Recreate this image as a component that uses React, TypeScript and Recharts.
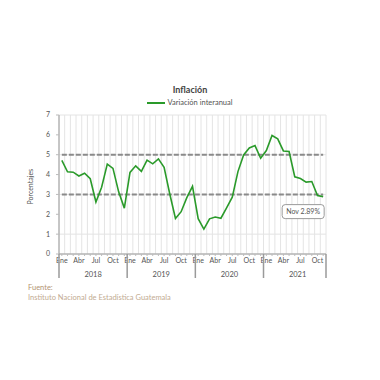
import React from "react";
import {
  LineChart,
  Line,
  XAxis,
  YAxis,
  CartesianGrid,
  ReferenceLine,
  ReferenceDot,
} from "recharts";

const monthNames = ["Ene", "Feb", "Mar", "Abr", "May", "Jun", "Jul", "Ago", "Sep", "Oct", "Nov", "Dic"];
const years = [2018, 2019, 2020, 2021];
const shownMonths = ["Ene", "Abr", "Jul", "Oct"];

const values2018 = [4.71, 4.14, 4.12, 3.93, 4.07, 3.79, 2.62, 3.36, 4.53, 4.31, 3.13, 2.31];
const values2019 = [4.11, 4.44, 4.16, 4.73, 4.54, 4.79, 4.37, 3.02, 1.79, 2.13, 2.84, 3.41];
const values2020 = [1.78, 1.25, 1.77, 1.86, 1.80, 2.32, 2.86, 4.15, 4.99, 5.34, 5.46, 4.82];
const values2021 = [5.21, 5.97, 5.80, 5.19, 5.16, 3.89, 3.80, 3.62, 3.65, 2.94, 2.89];

const seriesByYear = [values2018, values2019, values2020, values2021];

const data = years.flatMap((yr, yi) =>
  seriesByYear[yi].map((v, mi) => ({
    key: `${monthNames[mi]} ${yr}`,
    month: monthNames[mi],
    monthIndex: mi,
    year: yr,
    value: v,
  }))
);

const lastPoint = data[data.length - 1];
const firstKey = data[0].key;
const lastKey = lastPoint.key;
const targetHigh = 5;
const targetLow = 3;

const FONT = "'Lato', 'DejaVu Sans', sans-serif";
const GREEN = "#2a9a2a";

const MonthTick = (props: any) => {
  const { x, y, payload } = props;
  const d = data[payload.index];
  if (!d || !shownMonths.includes(d.month)) return null;
  return (
    <text x={x} y={y} dy="0.71em" textAnchor="middle" fontSize={7} fill="#555" fontFamily={FONT}>
      {d.month}
    </text>
  );
};

const YearTick = (props: any) => {
  const { x, y, payload } = props;
  const i = payload.index;
  const d = data[i];
  if (!d) return null;
  const half = (payload.offset as number) || 2.84;
  const items: any[] = [];
  if (d.monthIndex === 0) {
    items.push(<line key="s" x1={x - half} x2={x - half} y1={y - 12} y2={y + 12} stroke="#9a9a9a" strokeWidth={1.5} />);
  }
  if (i === data.length - 1) {
    items.push(<line key="e" x1={x + half} x2={x + half} y1={y - 12} y2={y + 12} stroke="#9a9a9a" strokeWidth={1.5} />);
  }
  if (d.monthIndex === 5) {
    items.push(
      <text key="t" x={x + half} y={y + 11} textAnchor="middle" fontSize={7.5} fill="#555" fontFamily={FONT}>
        {d.year}
      </text>
    );
  }
  return <g>{items}</g>;
};

const NoteLabel = (props: any) => {
  const { viewBox } = props;
  const cx = viewBox.x + viewBox.width / 2;
  const cy = viewBox.y + viewBox.height / 2;
  const w = 42;
  const h = 14;
  const left = cx - w + 1;
  const top = cy + 8;
  return (
    <g>
      <rect x={left} y={top} width={w} height={h} rx={3} ry={3} fill="#fff" stroke="#9a9a9a" strokeWidth={1} />
      <text x={left + w / 2} y={top + h / 2 + 2.5} textAnchor="middle" fontSize={7} fill="#555" fontFamily={FONT}>
        {`${lastPoint.month} ${lastPoint.value.toFixed(2)}%`}
      </text>
    </g>
  );
};

export default function App() {
  return (
    <div style={{ position: "absolute", left: 0, top: 0, width: 380, height: 380, background: "#fff", fontFamily: FONT }}>
      <div style={{ position: "absolute", left: 0, width: 380, top: 84, textAlign: "center", fontSize: 9, fontWeight: 700, color: "#444" }}>
        Inflación
      </div>
      <div style={{ position: "absolute", left: 0, width: 380, top: 98, display: "flex", justifyContent: "center", alignItems: "center", fontSize: 7.5, color: "#555" }}>
        <span style={{ display: "inline-block", width: 18, height: 2, background: GREEN, marginRight: 2 }} />
        <span>Variación interanual</span>
      </div>
      <div style={{ position: "absolute", left: 0, top: 0 }}>
        <LineChart width={380} height={300} data={data} margin={{ top: 115, right: 54, left: 29, bottom: 10 }}>
          <CartesianGrid
            stroke="#e4e4e4"
            strokeWidth={1}
            verticalCoordinatesGenerator={({ offset }: any) => {
              const n = data.length;
              const bw = offset.width / n;
              return Array.from({ length: n + 1 }, (_, k) => offset.left + k * bw);
            }}
          />
          <XAxis
            dataKey="key"
            scale="band"
            interval={0}
            height={12}
            tick={<MonthTick />}
            tickSize={2}
            tickMargin={2}
            tickLine={{ stroke: "#bbb" }}
            axisLine={{ stroke: "#9a9a9a" }}
          />
          <XAxis
            xAxisId="yr"
            dataKey="key"
            scale="band"
            interval={0}
            height={24}
            tick={<YearTick />}
            tickSize={0}
            tickMargin={0}
            tickLine={false}
            axisLine={false}
          />
          <YAxis
            domain={[0, 7]}
            ticks={[0, 1, 2, 3, 4, 5, 6, 7]}
            width={30}
            tickSize={3}
            tickMargin={6}
            tick={{ fontSize: 7, fill: "#555", fontFamily: FONT }}
            tickLine={{ stroke: "#bbb" }}
            axisLine={{ stroke: "#9a9a9a" }}
            label={{ value: "Porcentajes", angle: -90, position: "insideLeft", offset: 2, dy: 20, style: { fontSize: 7, fill: "#555", fontFamily: FONT } }}
          />
          <ReferenceLine
            segment={[{ x: firstKey, y: targetHigh }, { x: lastKey, y: targetHigh }]}
            stroke="#8a8a8a"
            strokeWidth={2}
            strokeDasharray="5 2"
          />
          <ReferenceLine
            segment={[{ x: firstKey, y: targetLow }, { x: lastKey, y: targetLow }]}
            stroke="#8a8a8a"
            strokeWidth={2}
            strokeDasharray="5 2"
          />
          <Line
            type="linear"
            dataKey="value"
            stroke={GREEN}
            strokeWidth={1.6}
            dot={false}
            activeDot={false}
            isAnimationActive={false}
          />
          <ReferenceDot x={lastKey} y={lastPoint.value} r={0} fill="none" stroke="none" label={<NoteLabel />} />
        </LineChart>
      </div>
      <div style={{ position: "absolute", left: 28, top: 283, fontSize: 7.5, color: "#b39472" }}>Fuente:</div>
      <div style={{ position: "absolute", left: 28, top: 293, fontSize: 7.5, color: "#c2ab92" }}>
        Instituto Nacional de Estadística Guatemala
      </div>
    </div>
  );
}
